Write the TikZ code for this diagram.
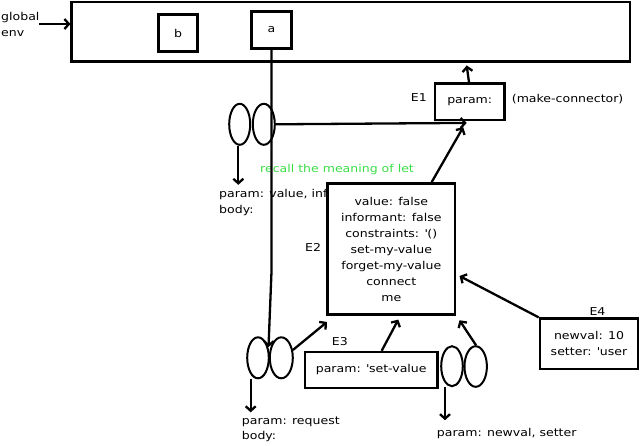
\documentclass[tikz,border=0pt]{standalone}
\usepackage{fontspec}
\setmainfont[FakeStretch=1.16]{DejaVu Sans}
\usetikzlibrary{arrows.meta,shapes.geometric}
\definecolor{recallgreen}{RGB}{60,220,70}
\tikzset{
  every node/.style={font=\fontsize{10.8}{16}\selectfont},
  frame/.style={draw, line width=2.5pt, fill=white, rectangle, inner sep=0pt, align=center},
  txt/.style={inner sep=0pt, anchor=base west},
  proc/.style={draw, ellipse, line width=2pt, inner sep=0pt},
  conn/.style={line width=2.3pt, -{Straight Barb[length=4.5pt,width=10pt,line width=2.3pt]}},
  plain/.style={line width=2.3pt}
}
\begin{document}
\begin{tikzpicture}[x=1pt,y=-1pt]
\useasboundingbox (0,0) rectangle (642,445);
% texts lying under boxes / lines
\node[txt] (pv1) at (219,197.3) {param: value, informant};
\node[txt] (pv2) at (219,213.3) {body:};
\node[txt, text=recallgreen] (recall) at (260,172) {recall the meaning of let};
% global environment
\node[frame, minimum width=558.3pt, minimum height=59.7pt] (genv) at (350.85,31.85) {};
\node[frame, minimum width=39pt, minimum height=36.6pt] (b) at (178.2,33) {b};
\node[frame, minimum width=39.6pt, minimum height=36.6pt] (a) at (271.5,30) {a};
\node[txt] (glob1) at (1,20) {global};
\node[txt] (glob2) at (1,36) {env};
\coordinate (gstart) at (39,24);
\draw[conn] (gstart) -- (gstart -| genv.west);
% E1
\node[frame, minimum width=69.3pt, minimum height=36.3pt] (E1) at (469.7,101.8) {param:};
\node[txt] (E1l) at (410.7,101) {E1};
\node[txt] (mk) at (511.7,102) {(make-connector)};
% procedure 1
\node[proc, minimum width=21pt, minimum height=41pt] (p1l) at (239.7,124.3) {};
\node[proc, minimum width=22pt, minimum height=41pt] (p1r) at (263.8,124.3) {};
% E2
\node[frame, minimum width=127.3pt, minimum height=131.4pt] (E2) at (391.3,249)
  {value: false\\informant: false\\constraints: \textquotesingle()\\set-my-value\\forget-my-value\\connect\\me};
\node[txt] (E2l) at (305,251.7) {E2};
% E3
\node[frame, minimum width=132.3pt, minimum height=36pt] (E3) at (371.2,370) {param: \textquotesingle set-value};
\node[txt] (E3l) at (331.7,345.7) {E3};
% E4
\node[frame, minimum width=98pt, minimum height=50.3pt] (E4) at (589,343.8) {newval: 10\\setter: \textquotesingle user};
\node[inner sep=0pt, anchor=base] (E4l) at (597.5,315) {E4};
% procedure 2
\node[proc, minimum width=21.6pt, minimum height=41pt] (p2l) at (258,357.8) {};
\node[proc, minimum width=23pt, minimum height=41pt] (p2r) at (281.3,357.8) {};
\node[txt] (pr1) at (241.7,424) {param: request};
\node[txt] (pr2) at (241.7,439.3) {body:};
% procedure 3
\node[proc, minimum width=21.6pt, minimum height=40pt] (p3l) at (452,366.2) {};
\node[proc, minimum width=22.4pt, minimum height=40.6pt] (p3r) at (475.7,366.5) {};
\node[txt] (pn) at (436.7,436.7) {param: newval, setter};
% connectors
\coordinate (aend) at (268.5,347);
\draw[conn] (a.south) -- ++(0,222) -- (aend);
\draw[conn] (p1r.east) -- ([xshift=-3pt,yshift=-1.7pt]E1.south);
\draw[conn] ([xshift=-0.7pt]E1.north) -- ([xshift=-3pt,yshift=-2.5pt]genv.south -| E1.north);
\draw[conn] ([xshift=-1.4pt]p1l.south) -- ++(0,39);
\draw[conn] ([xshift=40.4pt]E2.north) -- ([xshift=-6.5pt,yshift=-6pt]E1.south);
\draw[conn] (p2r.34) -- ([xshift=0.6pt,yshift=-6pt]E2.south west);
\draw[conn] ([xshift=10.5pt]E3.north) -- ([xshift=7pt,yshift=-3.6pt]E2.south);
\draw[conn] ([xshift=0.3pt]p3r.north) -- ([xshift=3.3pt,yshift=-4.3pt]E2.south east);
\draw[conn] (E4.north west) -- ([xshift=3.3pt,yshift=-27pt]E2.east);
\draw[conn] ([xshift=-7.3pt]p2l.south) -- ++(0,33);
\draw[conn] ([xshift=-7pt]p3l.south) -- ++(0,33);
\end{tikzpicture}
\end{document}
